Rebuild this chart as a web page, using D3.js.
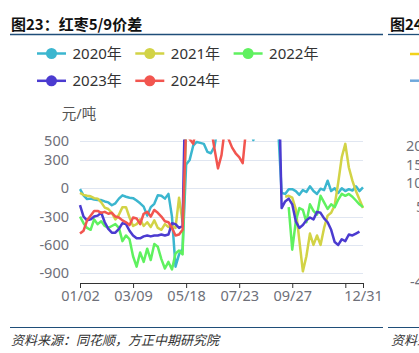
<!DOCTYPE html>
<html>

<head>
	<meta charset="utf-8">
	<title>图23 红枣5/9价差</title>
	<script src="https://cdn.jsdelivr.net/npm/d3@7/dist/d3.min.js"></script>
	<style>
		body {
			margin: 0;
			background: #fff;
		}

		svg {
			display: block;
			font-family: "Noto Sans", "Noto Sans CJK SC", sans-serif;
		}

		.grid line {
			stroke: #e0e6f1;
			stroke-width: 1px;
		}

		.series {
			fill: none;
			stroke-width: 2.5px;
			stroke-linejoin: round;
		}
	</style>
</head>

<body>
	<svg id="svg1" width="419" height="353"></svg>

	<script type="text/javascript">
		// one sample every 3 trading days, 81 samples from 01/02 to 12/31 (null = no quote)
		var years = ['2020年', '2021年', '2022年', '2023年', '2024年'];
		var colors = ['#3bb6cf', '#d2d346', '#5ff15f', '#4b3bd0', '#f2554f'];

		var s2020 = [
			-10, -75, -115, -110, -120, -125, -125, -140, -150, -180,
			-160, -110, -75, -90, -100, -105, -130, -160, -195, -290,
			-200, -165, -75, -80, -110, -60, -300, -830, -700, -640,
			250, 300, 450, 490, 480, 470, 385, 370, 440, 650,
			650, 650, 650, 650, 650, 650, 650, 650, 650, 510,
			650, 650, 650, 650, 650, 650, 650, -50, -60, -10,
			-10, -30, -70, -20, -40, 20, -30, -60, -5, -20,
			80, -30, 0, -50, 0, -30, -10, -25, 20, -30,
			10];
		var s2021 = [
			-50, -70, -80, -85, -105, -110, -150, -205, -220, -260,
			-330, -280, -200, -200, -310, -400, -380, -330, -400, -360,
			-410, -340, -420, -440, -380, -410, -400, -420, -100, -360,
			null, null, null, null, null, null, null, null, null, null,
			null, null, null, null, null, null, null, null, null, null,
			null, null, null, null, null, null, null, null, -90, -80,
			-100, -220, -550, -880, -720, -480, -600, -500, -600, -420,
			-290, -260, -180, 60, 330, 470, 220, 80, -30, -120,
			-210];
		var s2022 = [
			-300, -370, -420, -440, -330, -380, -350, -400, -420, -400,
			-380, -420, -560, -500, -540, -720, -830, -680, -780, -640,
			-760, -590, -620, -750, -850, -780, -860, -690, -660, -700,
			700, null, null, null, null, null, null, null, null, null,
			null, null, null, null, null, null, null, null, null, null,
			null, null, null, null, null, null, null, null, null, -200,
			-650, -350, -210, -230, -360, -170, -240, -280, -80, -150,
			-220, -170, -200, -120, -60, -80, -60, -90, -130, -170,
			-200];
		var s2023 = [
			-180, -300, -340, -330, -300, -290, -260, -360, -430, -470,
			-470, -430, -370, -380, -450, -500, -530, -530, -510, -500,
			-510, -500, -500, -490, -500, -490, -370, -380, -420, -400,
			1500, 1500, 1500, 1500, 1500, 1500, 1500, 1500, 1500, 1500,
			1500, 1500, 1500, 1500, 1500, 1500, 1500, 1500, 1500, 1500,
			1500, 1500, 1500, 1500, 1500, 1500, 1500, -210, -140, -110,
			-170, -350, -420, -390, -340, -310, -330, -250, -260, -320,
			-360, -440, -570, -600, -540, -560, -490, -500, -480, -460,
			null];
		var s2024 = [
			-480, -450, -340, -290, -240, -240, -260, -250, -270, -260,
			-300, -310, -340, -360, -390, -310, -320, -380, -270, -250,
			-300, -230, -260, -300, -350, -360, -420, -500, -490, -440,
			650, 520, 470, 650, 650, 650, 650, 650, 420, 210,
			350, 650, 520, 430, 370, 330, 265, 650, null, null,
			null, null, null, null, null, null, null, null, null, null,
			null, null, null, null, null, null, null, null, null, null,
			null, null, null, null, null, null, null, null, null, null,
			null];
		var series = [s2020, s2021, s2022, s2023, s2024];

		var yTicks = [500, 300, 0, -300, -600, -900];
		var xTickAt = [0, 15, 30, 45, 60, 75, 80];
		var xTickLabels = ['01/02', '03/09', '05/18', '07/23', '09/27', '', '12/31'];

		var svg = d3.select('#svg1');
		var plotL = 80, plotR = 363, plotT = 141, plotB = 282.7;

		var x = d3.scaleLinear()
			.domain([0, 80])
			.range([plotL, plotR]);

		var y = d3.scaleLinear()
			.domain([-1000, 500])
			.range([plotB, plotT]);

		// title + rules
		svg.append('text')
			.attr('x', 11).attr('y', 29.5)
			.attr('font-family', '"Noto Sans CJK SC"')
			.attr('font-weight', 'bold')
			.attr('font-size', 15)
			.attr('fill', '#111')
			.text('图23：红枣5/9价差');
		svg.append('text')
			.attr('x', 390).attr('y', 29.5)
			.attr('font-family', '"Noto Sans CJK SC"')
			.attr('font-weight', 'bold')
			.attr('font-size', 15)
			.attr('fill', '#111')
			.text('图24');

		[[10, 383], [388, 419]].forEach(d => {
			svg.append('line')
				.attr('x1', d[0]).attr('x2', d[1])
				.attr('y1', 34.5).attr('y2', 34.5)
				.attr('stroke', '#1f4e79').attr('stroke-width', 1.3);
			svg.append('line')
				.attr('x1', d[0]).attr('x2', d[1])
				.attr('y1', 327.5).attr('y2', 327.5)
				.attr('stroke', '#1f4e79').attr('stroke-width', 1);
		});

		svg.append('text')
			.attr('x', 11).attr('y', 344.5)
			.attr('font-family', '"Noto Sans CJK SC"')
			.attr('font-style', 'italic')
			.attr('font-size', 13)
			.attr('fill', '#333')
			.text('资料来源：同花顺，方正中期研究院');
		svg.append('text')
			.attr('x', 391).attr('y', 344.5)
			.attr('font-family', '"Noto Sans CJK SC"')
			.attr('font-style', 'italic')
			.attr('font-size', 13)
			.attr('fill', '#333')
			.text('资料来');

		// legend
		var legend = svg.append('g')
			.selectAll('g')
			.data(years)
			.enter()
			.append('g')
			.attr('transform', (d, i) => 'translate(' + (37 + (i % 3) * 98.3) + ',' + (53.5 + Math.floor(i / 3) * 27.3) + ')');
		legend.append('line')
			.attr('x1', 0).attr('x2', 29)
			.attr('stroke', (d, i) => colors[i])
			.attr('stroke-width', 2.5);
		legend.append('circle')
			.attr('cx', 14.5).attr('r', 5.5)
			.attr('fill', (d, i) => colors[i]);
		legend.append('text')
			.attr('x', 35.5).attr('dy', '0.35em')
			.attr('font-size', 15)
			.attr('fill', '#333')
			.text(d => d);

		// bits of the next chart cut off at the right edge
		svg.append('line').attr('x1', 410).attr('x2', 419).attr('y1', 54).attr('y2', 54)
			.attr('stroke', '#f2d21b').attr('stroke-width', 2.5);
		svg.append('line').attr('x1', 410).attr('x2', 419).attr('y1', 80.7).attr('y2', 80.7)
			.attr('stroke', '#6fa8dc').attr('stroke-width', 2.5);
		[['20', 406, 146], ['15', 406, 164.5], ['10', 406, 183], ['5', 416, 207], ['-4', 410, 282]].forEach(d => {
			svg.append('text')
				.attr('x', d[1]).attr('y', d[2]).attr('dy', '0.35em')
				.attr('font-size', 14.5)
				.attr('fill', '#6e7079')
				.text(d[0]);
		});

		// unit
		svg.append('text')
			.attr('x', 79).attr('y', 114).attr('dy', '0.35em')
			.attr('text-anchor', 'middle')
			.attr('font-size', 14.5)
			.attr('fill', '#555')
			.text('元/吨');

		// grid + y labels
		var grid = svg.append('g').attr('class', 'grid');
		grid.selectAll('line')
			.data(yTicks)
			.enter()
			.append('line')
			.attr('x1', plotL).attr('x2', plotR)
			.attr('y1', d => Math.round(y(d)) + 0.5)
			.attr('y2', d => Math.round(y(d)) + 0.5);
		svg.append('g')
			.selectAll('text')
			.data(yTicks)
			.enter()
			.append('text')
			.attr('x', 69).attr('y', d => y(d)).attr('dy', '0.35em')
			.attr('text-anchor', 'end')
			.attr('font-size', 14.5)
			.attr('fill', '#6e7079')
			.text(d => d);

		// x axis
		var xAxis = d3.axisBottom(x)
			.tickValues(xTickAt)
			.tickFormat((d, i) => xTickLabels[i])
			.tickSize(5)
			.tickSizeOuter(0)
			.tickPadding(3);
		var gx = svg.append('g')
			.attr('transform', 'translate(0,' + Math.round(plotB) + ')')
			.call(xAxis);
		gx.select('.domain').attr('stroke', '#333');
		gx.selectAll('.tick line').attr('stroke', '#333');
		gx.selectAll('.tick text')
			.attr('font-size', 14.5)
			.attr('font-family', '"Noto Sans", sans-serif')
			.attr('fill', '#6e7079');

		// lines, clipped at the 500 gridline
		svg.append('clipPath').attr('id', 'clip')
			.append('rect')
			.attr('x', plotL - 2).attr('y', plotT - 1.5)
			.attr('width', plotR - plotL + 4).attr('height', plotB - plotT + 1.5);

		var line = d3.line()
			.defined(d => d !== null)
			.x((d, i) => x(i))
			.y(d => y(d));

		svg.append('g')
			.attr('clip-path', 'url(#clip)')
			.selectAll('path')
			.data(series)
			.enter()
			.append('path')
			.attr('class', 'series')
			.attr('stroke', (d, i) => colors[i])
			.attr('d', line);
	</script>
</body>

</html>
